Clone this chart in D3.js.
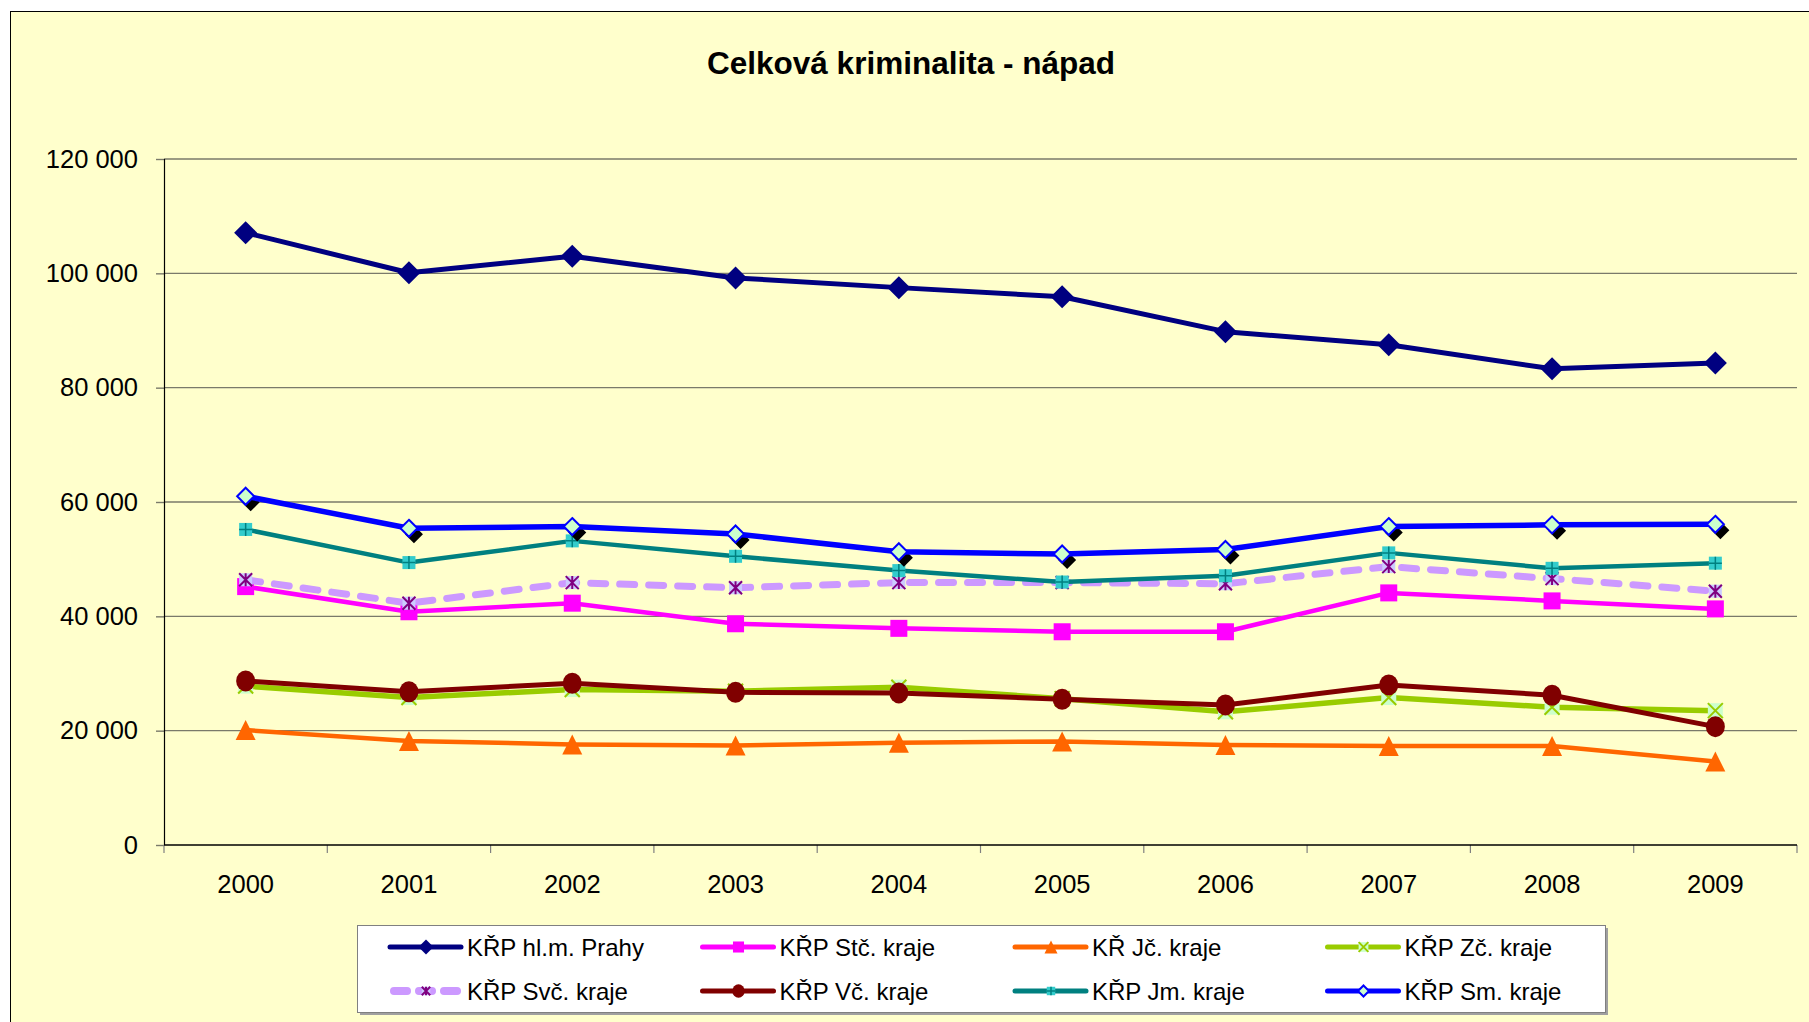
<!DOCTYPE html>
<html>
<head>
<meta charset="utf-8">
<script src="https://cdn.jsdelivr.net/npm/d3@7"></script>
<style>
  body { margin: 0; background: #fff; }
  text { font-family: "Liberation Sans", Arial, sans-serif; fill: #000; }
</style>
</head>
<body>
<div id="chart"></div>
<script>
const width = 1809;
const height = 1022;

// data
const years = ["2000", "2001", "2002", "2003", "2004", "2005", "2006", "2007", "2008", "2009"];
const prahy = [107100, 100100, 103000, 99200, 97500, 95900, 89800, 87500, 83300, 84300];
const stc   = [45200, 40800, 42300, 38700, 37900, 37300, 37300, 44100, 42700, 41300];
const jc    = [20100, 18200, 17600, 17400, 17900, 18100, 17500, 17300, 17300, 14600];
const zc    = [27800, 25800, 27200, 26900, 27600, 25600, 23300, 25800, 24100, 23500];
const svc   = [46400, 42300, 45900, 45000, 45900, 45900, 45700, 48700, 46600, 44400];
const vc    = [28700, 26800, 28300, 26700, 26600, 25500, 24500, 28000, 26200, 20700];
const jm    = [55200, 49400, 53200, 50500, 48000, 46000, 47100, 51100, 48400, 49300];
const sm    = [61000, 55400, 55700, 54400, 51300, 50900, 51700, 55700, 56000, 56100];
const yTicks = [0, 20000, 40000, 60000, 80000, 100000, 120000];
const title = "Celková kriminalita - nápad";

const series = [
  { name: "KŘP hl.m. Prahy", values: prahy, color: "#000080", w: 5, marker: "diamond" },
  { name: "KŘP Stč. kraje", values: stc, color: "#FF00FF", w: 4.5, marker: "square" },
  { name: "KŘ Jč. kraje", values: jc, color: "#FF6600", w: 4.5, marker: "triangle" },
  { name: "KŘP Zč. kraje", values: zc, color: "#99CC00", w: 5.5, marker: "x" },
  { name: "KŘP Svč. kraje", values: svc, color: "#CC99FF", w: 7, marker: "star", dash: "15 14" },
  { name: "KŘP Vč. kraje", values: vc, color: "#800000", w: 5, marker: "circle" },
  { name: "KŘP Jm. kraje", values: jm, color: "#008080", w: 4.5, marker: "plus" },
  { name: "KŘP Sm. kraje", values: sm, color: "#0000FF", w: 5.5, marker: "diamondOpen" }
];

const margin = { left: 164, right: 1797, top: 159, bottom: 845 };

const svg = d3.select("#chart").append("svg")
  .attr("width", width)
  .attr("height", height);

// chart area
svg.append("rect")
  .attr("x", 10.5).attr("y", 11.5)
  .attr("width", width + 20).attr("height", height + 20)
  .attr("fill", "#FFFFCC")
  .attr("stroke", "#000").attr("stroke-width", 1);

svg.append("text")
  .attr("x", 911).attr("y", 74)
  .attr("text-anchor", "middle")
  .style("font-size", "31.5px")
  .style("font-weight", "bold")
  .text(title);

const x = d3.scaleBand().domain(years).range([margin.left, margin.right]).padding(0);
const y = d3.scaleLinear().domain([0, 120000]).range([margin.bottom, margin.top]);
const cx = d => x(d) + x.bandwidth() / 2;

// gridlines
svg.append("g")
  .selectAll("line")
  .data(yTicks.filter(d => d > 0))
  .enter().append("line")
  .attr("x1", margin.left).attr("x2", margin.right)
  .attr("y1", d => y(d)).attr("y2", d => y(d))
  .attr("stroke", "#7a7a6a").attr("stroke-width", 1.4);

// y axis
const fmt = d => d3.format(",")(d).replace(/,/g, " ");
const yAxis = svg.append("g")
  .attr("transform", `translate(${margin.left},0)`)
  .call(d3.axisLeft(y).tickValues(yTicks).tickSize(8).tickPadding(18).tickFormat(fmt));
yAxis.select(".domain").remove();
yAxis.selectAll(".tick line").attr("stroke", "#7a7a6a").attr("stroke-width", 1.4);
yAxis.selectAll("text").style("font-size", "25.5px").attr("fill", "#000");
svg.append("line")
  .attr("x1", margin.left + 0.5).attr("x2", margin.left + 0.5)
  .attr("y1", margin.top).attr("y2", margin.bottom)
  .attr("stroke", "#000").attr("stroke-width", 1.2);

// x axis
const xAxis = svg.append("g")
  .attr("transform", `translate(0,${margin.bottom})`)
  .call(d3.axisBottom(x).tickSize(0).tickPadding(30));
xAxis.select(".domain").remove();
xAxis.selectAll("text").style("font-size", "25.5px").attr("fill", "#000");
svg.append("g")
  .selectAll("line")
  .data(years.map(d => x(d)).concat([x.range()[1]]))
  .enter().append("line")
  .attr("x1", d => d).attr("x2", d => d)
  .attr("y1", margin.bottom).attr("y2", margin.bottom + 8)
  .attr("stroke", "#808080").attr("stroke-width", 1.2);
svg.append("line")
  .attr("x1", margin.left).attr("x2", margin.right)
  .attr("y1", margin.bottom).attr("y2", margin.bottom)
  .attr("stroke", "#000").attr("stroke-width", 1.5);

// markers
function drawMarker(g, s, k) {
  const c = s.color;
  if (s.marker === "diamond") {
    const r = 11.5 * k;
    g.append("path").attr("d", `M0,${-r}L${r},0L0,${r}L${-r},0Z`).attr("fill", c);
  } else if (s.marker === "square") {
    const r = 8.5 * k;
    g.append("rect").attr("x", -r).attr("y", -r).attr("width", 2 * r).attr("height", 2 * r).attr("fill", c);
  } else if (s.marker === "triangle") {
    const r = 10 * k;
    g.append("path").attr("d", `M0,${-r}L${r},${r}L${-r},${r}Z`).attr("fill", c);
  } else if (s.marker === "circle") {
    g.append("ellipse").attr("rx", 9.5 * k).attr("ry", 10.5 * k).attr("fill", c);
  } else if (s.marker === "x") {
    const r = 7.5 * k;
    g.append("rect").attr("x", -r).attr("y", -r).attr("width", 2 * r).attr("height", 2 * r).attr("fill", "#CCFFCC");
    g.append("path").attr("d", `M${-r},${-r}L${r},${r}M${r},${-r}L${-r},${r}`)
      .attr("stroke", c).attr("stroke-width", 2).attr("fill", "none");
  } else if (s.marker === "star") {
    const r = 6.5 * k;
    g.append("rect").attr("x", -r).attr("y", -r).attr("width", 2 * r).attr("height", 2 * r).attr("fill", "#CCCCFF");
    g.append("path").attr("d", `M${-r},${-r}L${r},${r}M${r},${-r}L${-r},${r}M0,${-r}L0,${r}`)
      .attr("stroke", "#800080").attr("stroke-width", 2).attr("fill", "none");
  } else if (s.marker === "plus") {
    const r = 6.5 * k;
    g.append("rect").attr("x", -r).attr("y", -r).attr("width", 2 * r).attr("height", 2 * r).attr("fill", "#33CCCC");
    g.append("path").attr("d", `M${-r},0L${r},0M0,${-r}L0,${r}`)
      .attr("stroke", "#008080").attr("stroke-width", 1.5).attr("fill", "none");
  } else if (s.marker === "diamondOpen") {
    const r = 8.5 * k;
    g.append("path").attr("d", `M0,${-r}L${r},0L0,${r}L${-r},0Z`)
      .attr("fill", "#CCFFCC").attr("stroke", c).attr("stroke-width", 2);
  }
}

const line = d3.line().x((d, i) => cx(years[i])).y(d => y(d));

series.forEach(s => {
  const g = svg.append("g");
  if (s.marker === "diamondOpen") {
    // black shadow behind the markers
    g.selectAll(".shadow")
      .data(s.values)
      .enter().append("path")
      .attr("class", "shadow")
      .attr("transform", (d, i) => `translate(${cx(years[i]) + 5},${y(d) + 6})`)
      .attr("d", "M0,-9L9,0L0,9L-9,0Z")
      .attr("fill", "#000");
  }
  g.append("path")
    .datum(s.values)
    .attr("d", line)
    .attr("fill", "none")
    .attr("stroke", s.color)
    .attr("stroke-width", s.w)
    .attr("stroke-linejoin", "round")
    .attr("stroke-linecap", s.dash ? "round" : "butt")
    .attr("stroke-dasharray", s.dash || null);
  g.selectAll(".m")
    .data(s.values)
    .enter().append("g")
    .attr("class", "m")
    .attr("transform", (d, i) => `translate(${cx(years[i])},${y(d)})`)
    .each(function() { drawMarker(d3.select(this), s, 1); });
});

// legend
const legend = svg.append("g");
legend.append("rect")
  .attr("x", 360).attr("y", 928).attr("width", 1248).attr("height", 87)
  .attr("fill", "#a0a0a0");
legend.append("rect")
  .attr("x", 357.5).attr("y", 925.5).attr("width", 1248).attr("height", 87)
  .attr("fill", "#fff").attr("stroke", "#808080").attr("stroke-width", 1);

const colX = d3.scaleLinear().domain([0, 1]).range([390, 702.5]);
const rowY = d3.scaleLinear().domain([0, 1]).range([947, 991]);

series.forEach((s, i) => {
  const col = i % 4, row = Math.floor(i / 4);
  const g = legend.append("g").attr("transform", `translate(${colX(col)},${rowY(row)})`);
  g.append("line")
    .attr("x1", s.dash ? 4 : 0).attr("x2", s.dash ? 68 : 71)
    .attr("stroke", s.color).attr("stroke-width", s.dash ? 8 : 5)
    .attr("stroke-linecap", "round")
    .attr("stroke-dasharray", s.dash ? "13 12" : null);
  const mg = g.append("g").attr("transform", "translate(36,0)");
  drawMarker(mg, s, 0.65);
  g.append("text")
    .attr("x", 77).attr("dy", "0.36em")
    .style("font-size", "24px")
    .text(s.name);
});
</script>
</body>
</html>
